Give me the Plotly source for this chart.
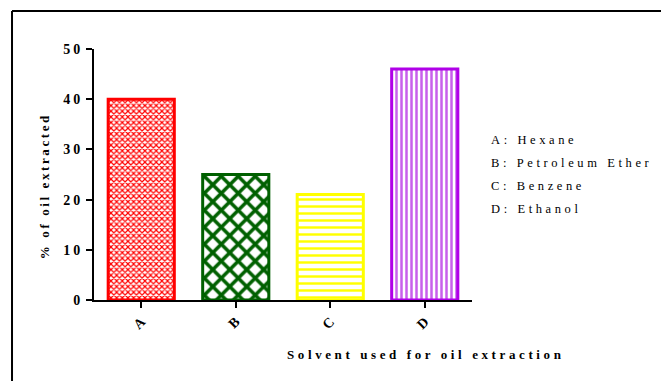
import plotly.graph_objects as go

categories = ["A", "B", "C", "D"]
values = [40, 25, 21, 46]
solvents = ["Hexane", "Petroleum Ether", "Benzene", "Ethanol"]
y_ticks = [0, 10, 20, 30, 40, 50]

line_colors = ["#ff0000", "#006000", "#ffff00", "#b000e8"]
fg_colors = ["#ff0000", "#006000", "#ffff00", "#c860ec"]
shapes_pat = ["x", "x", "-", "|"]
sizes_pat = [4, 12, 7, 5]
solid_pat = [0.5, 0.5, 0.35, 0.5]

def spaced(t, px):
    return f'<span style="letter-spacing:{px}px">{t}</span>'

fig = go.Figure()
for i, c in enumerate(categories):
    fig.add_trace(go.Bar(
        x=[c], y=[values[i]], width=0.7,
        marker=dict(
            color="white",
            line=dict(color=line_colors[i], width=3),
            pattern=dict(shape=shapes_pat[i], fgcolor=fg_colors[i], bgcolor="white",
                         fgopacity=1, fillmode="replace",
                         size=sizes_pat[i], solidity=solid_pat[i]),
        ),
        showlegend=False,
    ))

serif = "Liberation Serif, Times New Roman, serif"

fig.update_layout(
    width=669, height=381,
    margin=dict(l=86, r=205, t=41, b=89),
    paper_bgcolor="white", plot_bgcolor="white",
    font=dict(family=serif, color="black"),
    xaxis=dict(
        type="category", range=[-0.5, 3.5],
        showline=True, linecolor="black", linewidth=2,
        ticks="outside", ticklen=6, tickwidth=2, tickcolor="black",
        tickangle=-45, tickfont=dict(size=14, family=serif, weight="bold"),
        showgrid=False, zeroline=False,
    ),
    yaxis=dict(
        range=[0, 50], tickvals=y_ticks,
        ticktext=[spaced(str(v), 3) for v in y_ticks],
        showline=True, linecolor="black", linewidth=2,
        ticks="outside", ticklen=6, tickwidth=2, tickcolor="black",
        tickfont=dict(size=14, family=serif, weight="bold"),
        showgrid=False, zeroline=False,
    ),
    bargap=0.3,
)

annotations = [
    dict(text=spaced("% of oil extracted", 2.6), xref="paper", yref="paper", x=-0.132, y=0.454,
         xanchor="center", yanchor="middle",
         textangle=-90, showarrow=False, font=dict(size=13, family=serif, weight="bold")),
    dict(text=spaced("Solvent used for oil extraction", 3.6), xref="paper", yref="paper", x=0.876, y=-0.219,
         xanchor="center", yanchor="middle",
         showarrow=False, font=dict(size=13, family=serif, weight="bold")),
]
leg_y = [0.637, 0.546, 0.454, 0.363]
for i, c in enumerate(categories):
    annotations.append(dict(text=spaced(f"{c}: {solvents[i]}", 3.6), xref="paper", yref="paper",
                            x=1.046, y=leg_y[i], xanchor="left", yanchor="middle", showarrow=False,
                            font=dict(size=12.5, family=serif)))
fig.update_layout(annotations=annotations)

# outer frame (top and left edges visible in reference)
fig.add_shape(type="line", xref="paper", yref="paper", x0=-0.2169, x1=1.6, y0=1.1514, y1=1.1514,
              line=dict(color="black", width=2))
fig.add_shape(type="line", xref="paper", yref="paper", x0=-0.2169, x1=-0.2169, y0=1.1514, y1=-0.4,
              line=dict(color="black", width=2))

fig.write_html("out.html")
